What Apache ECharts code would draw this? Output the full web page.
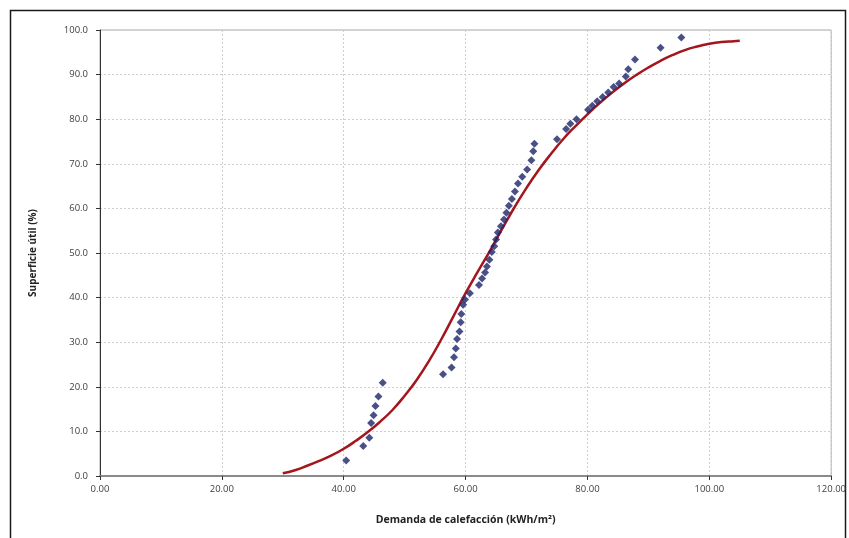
<!DOCTYPE html>
<html>
<head>
<meta charset="utf-8">
<script src="https://cdn.jsdelivr.net/npm/echarts@6/dist/echarts.min.js"></script>
<style>
  html, body { margin: 0; padding: 0; background: #ffffff; }
  #chart { width: 849px; height: 538px; }
</style>
</head>
<body>
<div id="chart"></div>
<script>
// Measured buildings: heating demand (kWh/m²) vs cumulative useful floor area (%)
const pointX = [40.4, 43.2, 44.2, 44.5, 44.9, 45.2, 45.7, 46.4,
  56.3, 57.7, 58.1, 58.4, 58.6, 59.0, 59.2, 59.3, 59.6, 59.9, 60.7,
  62.2, 62.7, 63.2, 63.5, 63.9, 64.3, 64.7, 65.0, 65.3, 65.8, 66.3,
  66.7, 67.1, 67.6, 68.1, 68.6, 69.3, 70.1, 70.8, 71.1, 71.3,
  75.0, 76.5, 77.2, 78.2, 80.1, 80.8, 81.6, 82.5, 83.4, 84.3,
  85.2, 86.3, 86.7, 87.8, 92.0, 95.4];
const pointY = [3.5, 6.7, 8.6, 11.9, 13.6, 15.7, 17.8, 20.9,
  22.8, 24.3, 26.6, 28.6, 30.7, 32.4, 34.5, 36.3, 38.4, 39.6, 41.0,
  42.8, 44.3, 45.6, 47.0, 48.5, 50.2, 51.5, 53.0, 54.6, 56.0, 57.5,
  59.0, 60.6, 62.1, 63.8, 65.6, 67.1, 68.7, 70.8, 72.8, 74.5,
  75.5, 77.8, 79.0, 80.0, 82.1, 83.0, 84.0, 85.0, 86.0, 87.2,
  88.0, 89.6, 91.2, 93.4, 96.0, 98.3];

// Fitted distribution curve
const curveX = [30, 32, 34, 36, 38, 40, 42, 44, 46, 48, 50, 52, 54, 56, 58,
  60, 62, 64, 66, 68, 70, 72, 74, 76, 78, 80, 82, 84, 86, 88, 90, 92, 94,
  96, 98, 100, 102, 104, 105];
const curveY = [0.6, 1.3, 2.3, 3.4, 4.6, 6.1, 7.9, 9.9, 12.2, 14.8, 18.0,
  21.6, 25.8, 30.6, 35.8, 41.0, 45.8, 50.5, 55.4, 60.2, 64.6, 68.6, 72.2,
  75.5, 78.4, 81.1, 83.6, 85.9, 88.0, 89.9, 91.6, 93.1, 94.4, 95.5, 96.3,
  96.9, 97.3, 97.5, 97.6];

const xAxisName = 'Demanda de calefacción (kWh/m²)';
const yAxisName = 'Superficie útil (%)';

const points = pointX.map((x, i) => [x, pointY[i]]);
const curve = curveX.map((x, i) => [x, curveY[i]]);

const chart = echarts.init(document.getElementById('chart'), null, { renderer: 'canvas' });

const labelFont = { fontFamily: 'Open Sans', fontSize: 9.5, color: '#404040' };

chart.setOption({
  animation: false,
  backgroundColor: '#ffffff',
  graphic: [{
    type: 'rect',
    shape: { x: 10.5, y: 10.5, width: 835, height: 540 },
    style: { fill: 'none', stroke: '#1a1a1a', lineWidth: 1.5 },
    silent: true
  }],
  grid: {
    left: 100, right: 13, top: 30, bottom: 62,
    show: true, borderColor: '#a8a8a8', borderWidth: 1
  },
  xAxis: {
    type: 'value', min: 0, max: 120, interval: 20,
    name: xAxisName, nameLocation: 'middle', nameGap: 39,
    nameTextStyle: { fontFamily: 'Open Sans', fontSize: 10.5, fontWeight: 'bold', color: '#222' },
    axisLine: { show: true, onZero: false, lineStyle: { color: '#8a8a8a', width: 2 } },
    axisTick: { show: true, length: 4, lineStyle: { color: '#333' } },
    axisLabel: Object.assign({ margin: 8, formatter: v => v.toFixed(2) }, labelFont),
    splitLine: { show: true, lineStyle: { color: '#cfcfcf', type: [2, 2], width: 1 } }
  },
  yAxis: {
    type: 'value', min: 0, max: 100, interval: 10,
    name: yAxisName, nameLocation: 'middle', nameGap: 62,
    nameTextStyle: { fontFamily: 'Open Sans', fontSize: 10, fontWeight: 'bold', color: '#222' },
    axisLine: { show: true, onZero: false, lineStyle: { color: '#333', width: 1 } },
    axisTick: { show: true, length: 4, lineStyle: { color: '#333' } },
    axisLabel: Object.assign({ margin: 12, formatter: v => v.toFixed(1) }, labelFont),
    splitLine: { show: true, lineStyle: { color: '#cfcfcf', type: [2, 2], width: 1 } }
  },
  series: [
    {
      type: 'line',
      data: curve,
      smooth: true,
      showSymbol: false,
      symbol: 'none',
      lineStyle: { color: '#a3161d', width: 2.5 },
      z: 2
    },
    {
      type: 'scatter',
      data: points,
      symbol: 'diamond',
      symbolSize: 8,
      itemStyle: { color: '#1c2468' },
      z: 3
    }
  ]
});
</script>
</body>
</html>
